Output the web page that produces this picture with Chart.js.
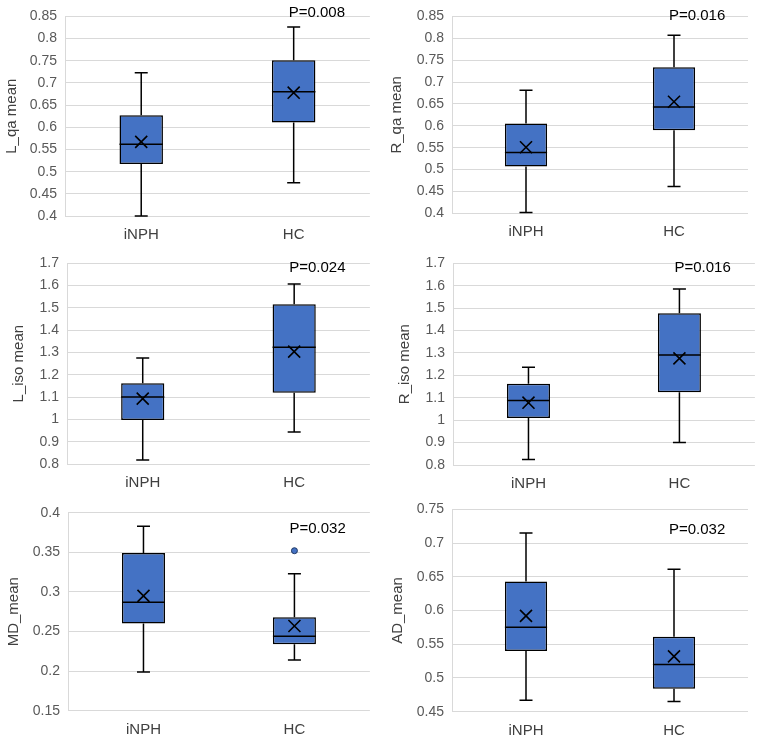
<!DOCTYPE html>
<html>
<head>
<meta charset="utf-8">
<script src="https://cdn.jsdelivr.net/npm/chart.js@4.4.0/dist/chart.umd.min.js"></script>
<style>
  html, body { margin: 0; padding: 0; background: #fff; }
  #page { position: relative; width: 765px; height: 739px; }
  .cell { position: absolute; }
</style>
</head>
<body>
<div id="page"></div>
<script>
const groups = ['iNPH', 'HC'];
const yTitles = ['L_qa mean', 'R_qa mean', 'L_iso mean', 'R_iso mean', 'MD_mean', 'AD_mean'];
const pLabels = ['P=0.008', 'P=0.016', 'P=0.024', 'P=0.016', 'P=0.032', 'P=0.032'];

// five-number summary per group: [min, q1, median, q3, max]
const lqaBox = [[0.400, 0.517, 0.562, 0.627, 0.723], [0.475, 0.611, 0.680, 0.751, 0.826]];
const lqaMean = [0.567, 0.678];
const rqaBox = [[0.402, 0.507, 0.539, 0.605, 0.681], [0.461, 0.590, 0.643, 0.734, 0.807]];
const rqaMean = [0.551, 0.655];
const lisoBox = [[0.818, 0.997, 1.100, 1.162, 1.275], [0.944, 1.120, 1.323, 1.516, 1.607]];
const lisoMean = [1.093, 1.304];
const risoBox = [[0.825, 1.010, 1.088, 1.162, 1.236], [0.900, 1.125, 1.291, 1.477, 1.585]];
const risoMean = [1.078, 1.276];
const mdBox = [[0.199, 0.260, 0.287, 0.349, 0.383], [0.214, 0.234, 0.244, 0.268, 0.323]];
const mdMean = [0.295, 0.257];
const mdOutlier = [null, 0.352];
const adBox = [[0.467, 0.540, 0.575, 0.643, 0.715], [0.465, 0.484, 0.520, 0.561, 0.661]];
const adMean = [0.592, 0.532];

// y axis ticks
const yMin = [0.4, 0.4, 0.8, 0.8, 0.15, 0.45];
const yMax = [0.85, 0.85, 1.7, 1.7, 0.4, 0.75];
const yStep = [0.05, 0.05, 0.1, 0.1, 0.05, 0.05];

Chart.defaults.font.family = '"Liberation Sans", Arial, sans-serif';

// grid cells and plot areas (local coords: left, top, right, bottom)
// cells overlap a little downward so the x labels have room
const colX = [0, 380], colW = [380, 385];
const rowY = [0, 245, 490], rowH = [260, 260, 260];
const panels = [
  { box: lqaBox, mean: lqaMean, out: null, col: 0, row: 0, area: [65, 16, 370, 216], titleX: 11.5, pAt: 0.857 },
  { box: rqaBox, mean: rqaMean, out: null, col: 1, row: 0, area: [72, 13.3, 368, 213.3], titleX: 17, pAt: 0.851 },
  { box: lisoBox, mean: lisoMean, out: null, col: 0, row: 1, area: [67, 18.3, 370, 219], titleX: 19, pAt: 1.68 },
  { box: risoBox, mean: risoMean, out: null, col: 1, row: 1, area: [73, 18.3, 376, 220], titleX: 25, pAt: 1.68 },
  { box: mdBox, mean: mdMean, out: mdOutlier, col: 0, row: 2, area: [68, 22.7, 370, 220.7], titleX: 14, pAt: 0.379 },
  { box: adBox, mean: adMean, out: null, col: 1, row: 2, area: [72, 19.3, 368, 221.7], titleX: 17.5, pAt: 0.719 }
];

// whiskers, caps and median line, drawn right after the boxes
function boxParts(stats) {
  return {
    id: 'boxParts',
    afterDatasetDraw(chart, args) {
      if (args.index !== 0) return;
      const ctx = chart.ctx;
      const y = chart.scales.y;
      const cap = 6.5;
      ctx.save();
      ctx.strokeStyle = '#000';
      ctx.lineWidth = 1.5;
      stats.forEach((s, i) => {
        const el = args.meta.data[i];
        const cx = el.x, half = el.width / 2;
        const [mn, q1, med, q3, mx] = s.map(v => y.getPixelForValue(v));
        ctx.beginPath();
        ctx.moveTo(cx, q3); ctx.lineTo(cx, mx);
        ctx.moveTo(cx - cap, mx); ctx.lineTo(cx + cap, mx);
        ctx.moveTo(cx, q1); ctx.lineTo(cx, mn);
        ctx.moveTo(cx - cap, mn); ctx.lineTo(cx + cap, mn);
        ctx.moveTo(cx - half, med); ctx.lineTo(cx + half, med);
        ctx.stroke();
      });
      ctx.restore();
    }
  };
}

function pText(text, at) {
  return {
    id: 'pText',
    afterDraw(chart) {
      const ctx = chart.ctx;
      ctx.save();
      ctx.font = '15px "Liberation Sans", Arial, sans-serif';
      ctx.fillStyle = '#000';
      ctx.textAlign = 'left';
      ctx.textBaseline = 'middle';
      ctx.fillText(text, chart.scales.x.getPixelForValue(1) - 5, chart.scales.y.getPixelForValue(at));
      ctx.restore();
    }
  };
}

const page = document.getElementById('page');
panels.forEach((p, i) => {
  const cw = colW[p.col], ch = rowH[p.row];
  const div = document.createElement('div');
  div.className = 'cell';
  div.style.left = colX[p.col] + 'px';
  div.style.top = rowY[p.row] + 'px';
  div.style.width = cw + 'px';
  div.style.height = ch + 'px';
  const canvas = document.createElement('canvas');
  div.appendChild(canvas);
  page.appendChild(div);

  const [l, t, r, b] = p.area;
  const xAxisH = 32;

  new Chart(canvas, {
    type: 'bar',
    data: {
      labels: groups,
      datasets: [
        {
          data: p.box.map(s => [s[1], s[3]]),
          backgroundColor: '#4472C4',
          borderColor: '#000',
          borderWidth: 1.5,
          borderSkipped: false,
          barPercentage: 0.285,
          categoryPercentage: 1,
          order: 3
        },
        {
          type: 'line',
          data: p.mean,
          showLine: false,
          pointStyle: 'crossRot',
          pointRadius: 8.5,
          pointBorderColor: '#000',
          pointBorderWidth: 1.6,
          order: 1
        },
        {
          type: 'line',
          data: p.out || [null, null],
          showLine: false,
          pointStyle: 'circle',
          pointRadius: 3,
          pointBackgroundColor: '#4472C4',
          pointBorderColor: '#1F3864',
          pointBorderWidth: 1,
          order: 2
        }
      ]
    },
    options: {
      responsive: true,
      maintainAspectRatio: false,
      animation: false,
      events: [],
      layout: { padding: { left: 0, top: t, right: cw - r, bottom: ch - b - xAxisH } },
      plugins: { legend: { display: false }, tooltip: { enabled: false } },
      scales: {
        x: {
          offset: true,
          grid: { display: false },
          border: { display: false },
          ticks: { color: '#404040', font: { size: 15 }, padding: 2 },
          afterFit: s => { s.height = xAxisH; }
        },
        y: {
          min: yMin[i],
          max: yMax[i],
          ticks: {
            stepSize: yStep[i],
            color: '#595959',
            font: { size: 14 },
            padding: 8,
            callback: v => String(+v.toFixed(2))
          },
          grid: { color: '#D9D9D9', drawTicks: false },
          border: { display: true, color: '#D9D9D9' },
          title: {
            display: true,
            text: yTitles[i],
            color: '#404040',
            font: { size: 15 },
            padding: { top: p.titleX - 9, bottom: 0 }
          },
          afterFit: s => { s.width = l; }
        }
      }
    },
    plugins: [boxParts(p.box), pText(pLabels[i], p.pAt)]
  });
});
</script>
</body>
</html>
